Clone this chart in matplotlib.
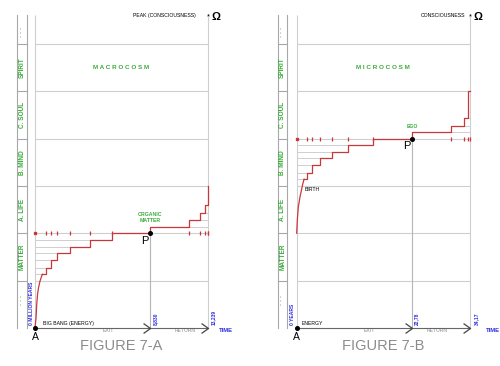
import numpy as np
import matplotlib.pyplot as plt
from matplotlib.path import Path

plt.rcParams['font.family'] = ['Liberation Sans', 'DejaVu Sans']

# level bands, bottom to top (one unit per band)
bands = ['· · ·', 'MATTER', 'A. LIFE', 'B. MIND', 'C. SOUL', 'SPIRIT', '· · ·']
band_label_pos = [0.6, 1.5, 2.5, 3.5, 4.5, 5.5, 6.25]
band_top = 6.61

# Figure 7-A: macrocosm, time in million years
macro_end = 13239
macro_p = 8830
macro_p_lvl = 2.0
macro_curve_t = [0, 77, 130, 191, 268, 383, 559]
macro_curve_lvl = [0, 0.21, 0.49, 0.70, 0.85, 0.99, 1.135]
macro_step_t = [559, 819, 1202, 1707, 2679, 4209, 5893, 8830, 11786, 12627, 13010, 13216, 13239]
macro_step_lvl = [1.135, 1.274, 1.437, 1.578, 1.718, 1.859, 2.0, 2.14, 2.28, 2.42, 2.6, 3.0, 3.0]
macro_ticks = ['0 MILLION YEARS', '8,830', '13,239']

# Figure 7-B: microcosm, time in years of a life
micro_end = 34.17
micro_p = 22.78
micro_p_lvl = 4.0
micro_curve_t = [0, 0.12, 0.32, 0.65, 0.95, 1.15, 1.44]
micro_curve_lvl = [2.0, 2.28, 2.556, 2.768, 2.916, 3.02, 3.142]
micro_step_t = [1.44, 1.98, 2.96, 4.60, 6.91, 10.19, 15.13, 22.78, 30.47, 32.90, 33.77, 34.17]
micro_step_lvl = [3.142, 3.281, 3.444, 3.585, 3.725, 3.866, 4.0, 4.147, 4.274, 4.43, 5.0, 5.0]
micro_ticks = ['0 YEARS', '22,78', '34,17']

GREEN = '#3aac3a'
RED = '#c9373a'
GRID = '#cfcfcf'
COL = '#a8a8a8'
BLUE = '#2b2be0'
W, H = 500, 366


def draw_panel(ax, end, p_t, p_lvl, curve_t, curve_lvl, step_t, step_lvl, ticks,
               title, peak, label, origin_txt, fig_name, lpx, txt):
    ax.set_xlim(0, end)
    ax.set_ylim(0, band_top)
    ax.axis('off')
    ty = ax.get_yaxis_transform()
    tx = ax.get_xaxis_transform()
    px = lambda d: d / 173.0  # pixel offset -> axes fraction

    # label column on the left
    c0, c1 = px(lpx[0]), px(lpx[1])
    for c in (c0, c1):
        ax.plot([c, c], [0, band_top], color=COL, lw=0.8, transform=ty, clip_on=False)
    for b in range(1, len(bands)):
        ax.plot([c0, c1], [b, b], color=COL, lw=0.8, transform=ty, clip_on=False)
    for name, yb in zip(bands, band_label_pos):
        ax.text((c0 + c1) / 2, yb, name, transform=ty, rotation=90, ha='center', va='center',
                color=GREEN, fontsize=4.7, fontweight='bold')

    # grid of bands
    ax.hlines(range(1, len(bands)), 0, end, color=GRID, lw=0.8, zorder=1)
    ax.vlines([0, end], 0, band_top, color=GRID, lw=0.8, zorder=1, clip_on=False)
    ax.vlines(p_t, 0, p_lvl, color='#b5b5b5', lw=0.8, zorder=1)

    # reference lines for each step
    st = np.array(step_t)
    sl = np.array(step_lvl)
    for i in range(len(st) - 1):
        if st[i] < p_t and sl[i] < p_lvl:
            ax.hlines(sl[i], 0, st[i], color=GRID, lw=0.7, zorder=1)
        elif st[i] >= p_t and st[i + 1] < end and sl[i] > p_lvl:
            ax.hlines(sl[i], st[i + 1], end, color=GRID, lw=0.7, zorder=1)
    tick_t = [t for t in st[1:-1] if t != p_t]
    ax.plot(tick_t + [end], [p_lvl] * (len(tick_t) + 1), ls='none', marker='|',
            ms=2.5, mew=0.9, color=RED, zorder=3, clip_on=False)
    ax.plot([0], [p_lvl], ls='none', marker='s', ms=2, color=RED, zorder=3, clip_on=False)

    # the curve
    ax.plot(curve_t, curve_lvl, color=RED, lw=0.9, zorder=4, clip_on=False)
    ax.step(st, sl, where='post', color=RED, lw=0.9, zorder=4, clip_on=False)

    # time axis
    chev = Path([(-0.7, 0.5), (0, 0), (-0.7, -0.5)], [Path.MOVETO, Path.LINETO, Path.LINETO])
    ax.plot([0, end], [0, 0], color='#666666', lw=0.8, zorder=5, clip_on=False)
    ax.plot([p_t, end], [0, 0], ls='none', marker=chev, ms=10, mew=0.9, mfc='none',
            mec='#444444', zorder=5, clip_on=False)
    ax.plot([0, p_t], [0, p_lvl], ls='none', marker='o', ms=2.6, color='black', zorder=6,
            clip_on=False)

    # texts
    fs_small = 3.7
    ax.text(0.5, 5.5, title, transform=ty, ha='center', va='center', color=GREEN,
            fontsize=4.6, fontweight='bold')
    ax.text(txt['peak'], 6.59, peak, transform=ty, ha='right', va='center', fontsize=fs_small)
    ax.text(1.0, 6.57, '*', transform=ty, ha='center', va='center', fontsize=5.5)
    ax.text(1.047, 6.56, 'Ω', transform=ty, ha='center', va='center', fontsize=8,
            fontweight='bold')
    ax.annotate(label, xy=(p_t, txt['label_y']), ha='center', va='center', color=GREEN,
                fontsize=fs_small, fontweight='bold', linespacing=1.2)
    ax.annotate('P', xy=(p_t, p_lvl), xytext=(-4.2, -5.2), textcoords='offset points',
                ha='center', va='center', fontsize=8)
    ax.annotate('A', xy=(0, 0), xytext=(0, -6.5), textcoords='offset points',
                ha='center', va='center', fontsize=7.5)
    ax.text(txt['origin'], 0.105, origin_txt, transform=ty, ha='left', va='center',
            fontsize=fs_small)
    ax.text(txt['exit'], -0.063, 'EXIT', transform=ty, ha='center', va='center',
            fontsize=fs_small, color='#8a8a8a')
    ax.text(txt['return'], -0.063, 'RETURN', transform=ty, ha='center', va='center',
            fontsize=fs_small, color='#8a8a8a')
    ax.text(txt['time'], -0.063, 'TIME', transform=ty, ha='center', va='center',
            fontsize=4.2, color=BLUE, fontweight='bold')
    ax.annotate(ticks[0], xy=(0, 0.06), xytext=(-2.7, 0), textcoords='offset points',
                rotation=90, ha='center', va='bottom', fontsize=3.6, color=BLUE,
                fontweight='bold')
    for t, s in ((p_t, ticks[1]), (end, ticks[2])):
        ax.annotate(s, xy=(t, 0.06), xytext=(txt['tick_dx'] if t == end else 1.6, 0),
                    textcoords='offset points', rotation=90, ha='left', va='bottom',
                    fontsize=3.6, color=BLUE, fontweight='bold')
    ax.text(0.5, -0.38, fig_name, transform=ty, ha='center', va='center', fontsize=10.5,
            color='#8c8c8c')
    if 'birth' in txt:
        ax.text(txt['birth'], 2.92, 'BIRTH', transform=ty, ha='left', va='center',
                fontsize=fs_small)


fig = plt.figure(figsize=(W / 100, H / 100), dpi=100)
bottom = (H - 328) / H
height = (328 - 15) / H
ax1 = fig.add_axes([35 / W, bottom, 173 / W, height])
ax2 = fig.add_axes([296.7 / W, bottom, 173.3 / W, height])

draw_panel(ax1, macro_end, macro_p, macro_p_lvl, macro_curve_t, macro_curve_lvl,
           macro_step_t, macro_step_lvl, macro_ticks, 'M A C R O C O S M',
           'PEAK (CONSCIOUSNESS)', 'ORGANIC\nMATTER', 'BIG BANG (ENERGY)', 'FIGURE 7-A',
           (-18.3, -7.7),
           dict(peak=0.931, label_y=2.33, origin=0.046, exit=0.422, ret=0, time=1.104,
                tick_dx=2.2, **{'return': 0.867}))
draw_panel(ax2, micro_end, micro_p, micro_p_lvl, micro_curve_t, micro_curve_lvl,
           micro_step_t, micro_step_lvl, micro_ticks, 'M I C R O C O S M',
           'CONSCIOUSNESS', 'EGO', 'ENERGY', 'FIGURE 7-B',
           (-18.7, -9.4),
           dict(peak=0.97, label_y=4.25, origin=0.031, exit=0.417, time=1.133,
                tick_dx=3.0, birth=0.048, **{'return': 0.809}))

fig.savefig('out.png', dpi=100)
